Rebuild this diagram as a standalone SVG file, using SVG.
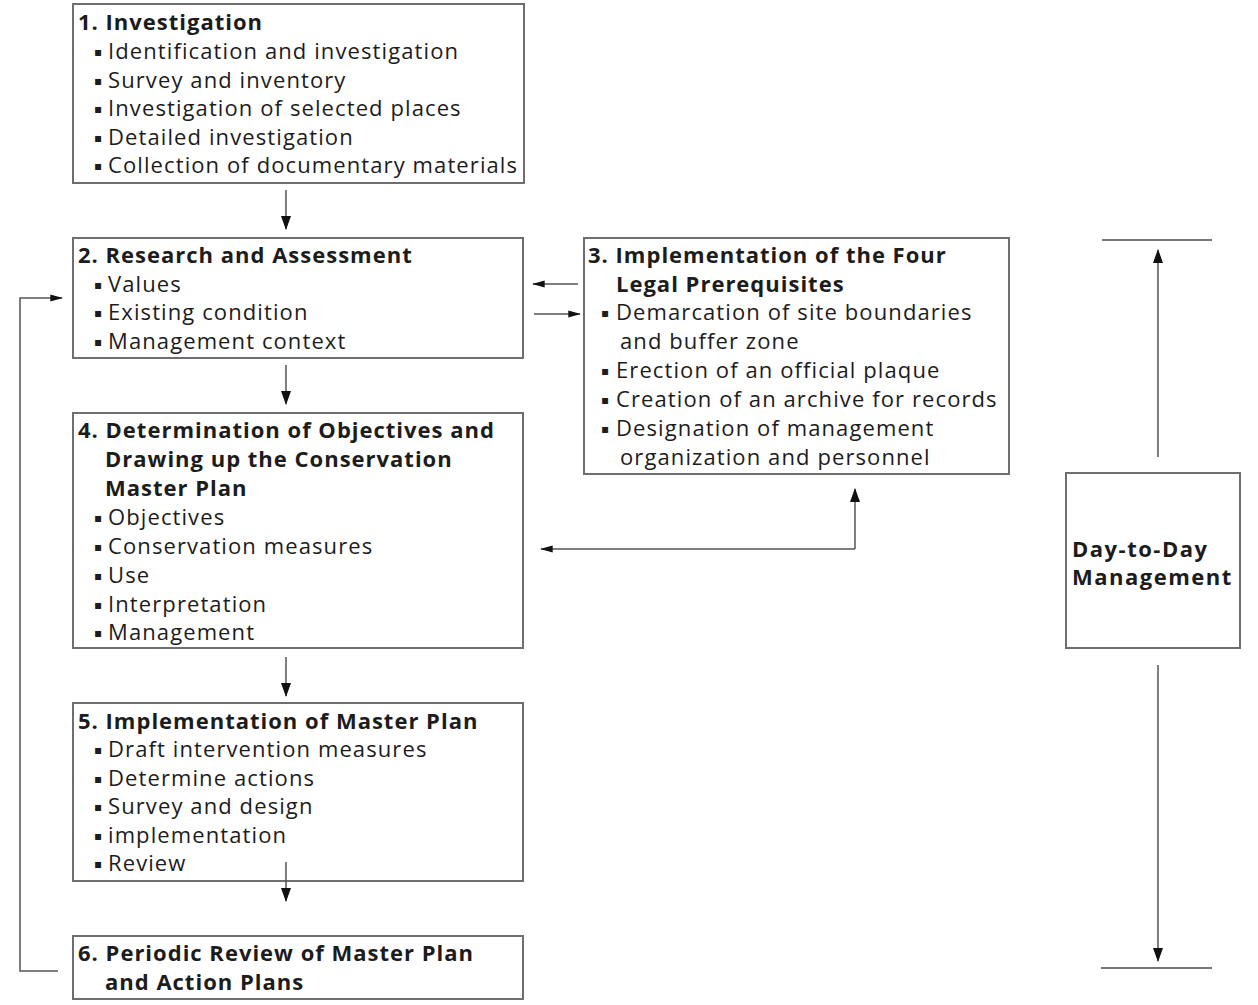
<svg xmlns="http://www.w3.org/2000/svg" width="1258" height="1005" viewBox="0 0 1258 1005">
<style>
.box{fill:#fff;stroke:#6e6e6e;stroke-width:2}
.t{font-family:"Open Sans","Noto Sans","DejaVu Sans",sans-serif;font-size:22px;letter-spacing:1.1px;fill:#1c1c1c}
.b{font-weight:bold;font-size:22px;letter-spacing:1px}
.bu{font-family:"DejaVu Sans",sans-serif;font-size:12px;letter-spacing:0}
.ln{fill:none;stroke:#555;stroke-width:1.5}
.bar{stroke:#777;stroke-width:2}
</style>
<defs>
<marker id="ah" viewBox="0 0 14 10" refX="13" refY="5" markerWidth="14" markerHeight="10" markerUnits="userSpaceOnUse" orient="auto">
<path d="M0,0 L14,5 L0,10 Z" fill="#111"/>
</marker>
<marker id="ahs" viewBox="0 0 14 10" refX="13" refY="5" markerWidth="14" markerHeight="9" markerUnits="userSpaceOnUse" orient="auto">
<path d="M0,1 L14,5 L0,9 Z" fill="#111"/>
</marker>
</defs>
<rect width="1258" height="1005" fill="#fff"/>

<g id="node1">
<rect class="box" x="73" y="4" width="451" height="179"/>
<text class="t b" x="78" y="30">1. Investigation</text>
<text class="t" y="59"><tspan class="bu" x="94" dy="-3">▪</tspan><tspan x="108" dy="3">Identification and investigation</tspan></text>
<text class="t" y="88"><tspan class="bu" x="94" dy="-3">▪</tspan><tspan x="108" dy="3">Survey and inventory</tspan></text>
<text class="t" y="116"><tspan class="bu" x="94" dy="-3">▪</tspan><tspan x="108" dy="3">Investigation of selected places</tspan></text>
<text class="t" y="145"><tspan class="bu" x="94" dy="-3">▪</tspan><tspan x="108" dy="3">Detailed investigation</tspan></text>
<text class="t" y="173"><tspan class="bu" x="94" dy="-3">▪</tspan><tspan x="108" dy="3">Collection of documentary materials</tspan></text>
</g>

<g id="node2">
<rect class="box" x="73" y="238" width="450" height="120"/>
<text class="t b" x="78" y="263">2. Research and Assessment</text>
<text class="t" y="292"><tspan class="bu" x="94" dy="-3">▪</tspan><tspan x="108" dy="3">Values</tspan></text>
<text class="t" y="320"><tspan class="bu" x="94" dy="-3">▪</tspan><tspan x="108" dy="3">Existing condition</tspan></text>
<text class="t" y="349"><tspan class="bu" x="94" dy="-3">▪</tspan><tspan x="108" dy="3">Management context</tspan></text>
</g>

<g id="node3">
<rect class="box" x="584" y="238" width="425" height="236"/>
<text class="t b" x="588" y="263">3. Implementation of the Four</text>
<text class="t b" x="616" y="292">Legal Prerequisites</text>
<text class="t" y="320"><tspan class="bu" x="601" dy="-3">▪</tspan><tspan x="616" dy="3">Demarcation of site boundaries</tspan></text>
<text class="t" x="620" y="349">and buffer zone</text>
<text class="t" y="378"><tspan class="bu" x="601" dy="-3">▪</tspan><tspan x="616" dy="3">Erection of an official plaque</tspan></text>
<text class="t" y="407"><tspan class="bu" x="601" dy="-3">▪</tspan><tspan x="616" dy="3">Creation of an archive for records</tspan></text>
<text class="t" y="436"><tspan class="bu" x="601" dy="-3">▪</tspan><tspan x="616" dy="3">Designation of management</tspan></text>
<text class="t" x="620" y="465">organization and personnel</text>
</g>

<g id="node4">
<rect class="box" x="73" y="413" width="450" height="235"/>
<text class="t b" x="78" y="438">4. Determination of Objectives and</text>
<text class="t b" x="105" y="467">Drawing up the Conservation</text>
<text class="t b" x="105" y="496">Master Plan</text>
<text class="t" y="525"><tspan class="bu" x="94" dy="-3">▪</tspan><tspan x="108" dy="3">Objectives</tspan></text>
<text class="t" y="554"><tspan class="bu" x="94" dy="-3">▪</tspan><tspan x="108" dy="3">Conservation measures</tspan></text>
<text class="t" y="583"><tspan class="bu" x="94" dy="-3">▪</tspan><tspan x="108" dy="3">Use</tspan></text>
<text class="t" y="612"><tspan class="bu" x="94" dy="-3">▪</tspan><tspan x="108" dy="3">Interpretation</tspan></text>
<text class="t" y="640"><tspan class="bu" x="94" dy="-3">▪</tspan><tspan x="108" dy="3">Management</tspan></text>
</g>

<g id="node5">
<rect class="box" x="73" y="703" width="450" height="178"/>
<text class="t b" x="78" y="729">5. Implementation of Master Plan</text>
<text class="t" y="757"><tspan class="bu" x="94" dy="-3">▪</tspan><tspan x="108" dy="3">Draft intervention measures</tspan></text>
<text class="t" y="786"><tspan class="bu" x="94" dy="-3">▪</tspan><tspan x="108" dy="3">Determine actions</tspan></text>
<text class="t" y="814"><tspan class="bu" x="94" dy="-3">▪</tspan><tspan x="108" dy="3">Survey and design</tspan></text>
<text class="t" y="843"><tspan class="bu" x="94" dy="-3">▪</tspan><tspan x="108" dy="3">implementation</tspan></text>
<text class="t" y="871"><tspan class="bu" x="94" dy="-3">▪</tspan><tspan x="108" dy="3">Review</tspan></text>
</g>

<g id="node6">
<rect class="box" x="73" y="936" width="450" height="63"/>
<text class="t b" x="78" y="961">6. Periodic Review of Master Plan</text>
<text class="t b" x="105" y="990">and Action Plans</text>
</g>

<g id="node7">
<rect class="box" x="1066" y="473" width="174" height="175"/>
<text class="t b" x="1072" y="557" style="letter-spacing:1.5px">Day-to-Day</text>
<text class="t b" x="1072" y="585" style="letter-spacing:1.5px">Management</text>
</g>

<g id="connectors">
<line class="ln" x1="286" y1="190" x2="286" y2="229" marker-end="url(#ah)"/>
<line class="ln" x1="286" y1="365" x2="286" y2="404" marker-end="url(#ah)"/>
<line class="ln" x1="286" y1="657" x2="286" y2="696" marker-end="url(#ah)"/>
<line class="ln" x1="286" y1="862" x2="286" y2="901" marker-end="url(#ah)"/>
<line class="ln" x1="578" y1="284" x2="533" y2="284" marker-end="url(#ahs)"/>
<line class="ln" x1="534" y1="314" x2="580" y2="314" marker-end="url(#ahs)"/>
<polyline class="ln" points="58,971 20,971 20,298 62,298" marker-end="url(#ahs)"/>
<polyline class="ln" points="855,549 541,549" marker-end="url(#ahs)"/>
<polyline class="ln" points="855,549 855,489" marker-end="url(#ah)"/>
<line class="bar" x1="1102" y1="240" x2="1212" y2="240"/>
<line class="ln" x1="1158" y1="457" x2="1158" y2="250" marker-end="url(#ah)"/>
<line class="ln" x1="1158" y1="665" x2="1158" y2="961" marker-end="url(#ah)"/>
<line class="bar" x1="1101" y1="968" x2="1212" y2="968"/>
</g>
</svg>
